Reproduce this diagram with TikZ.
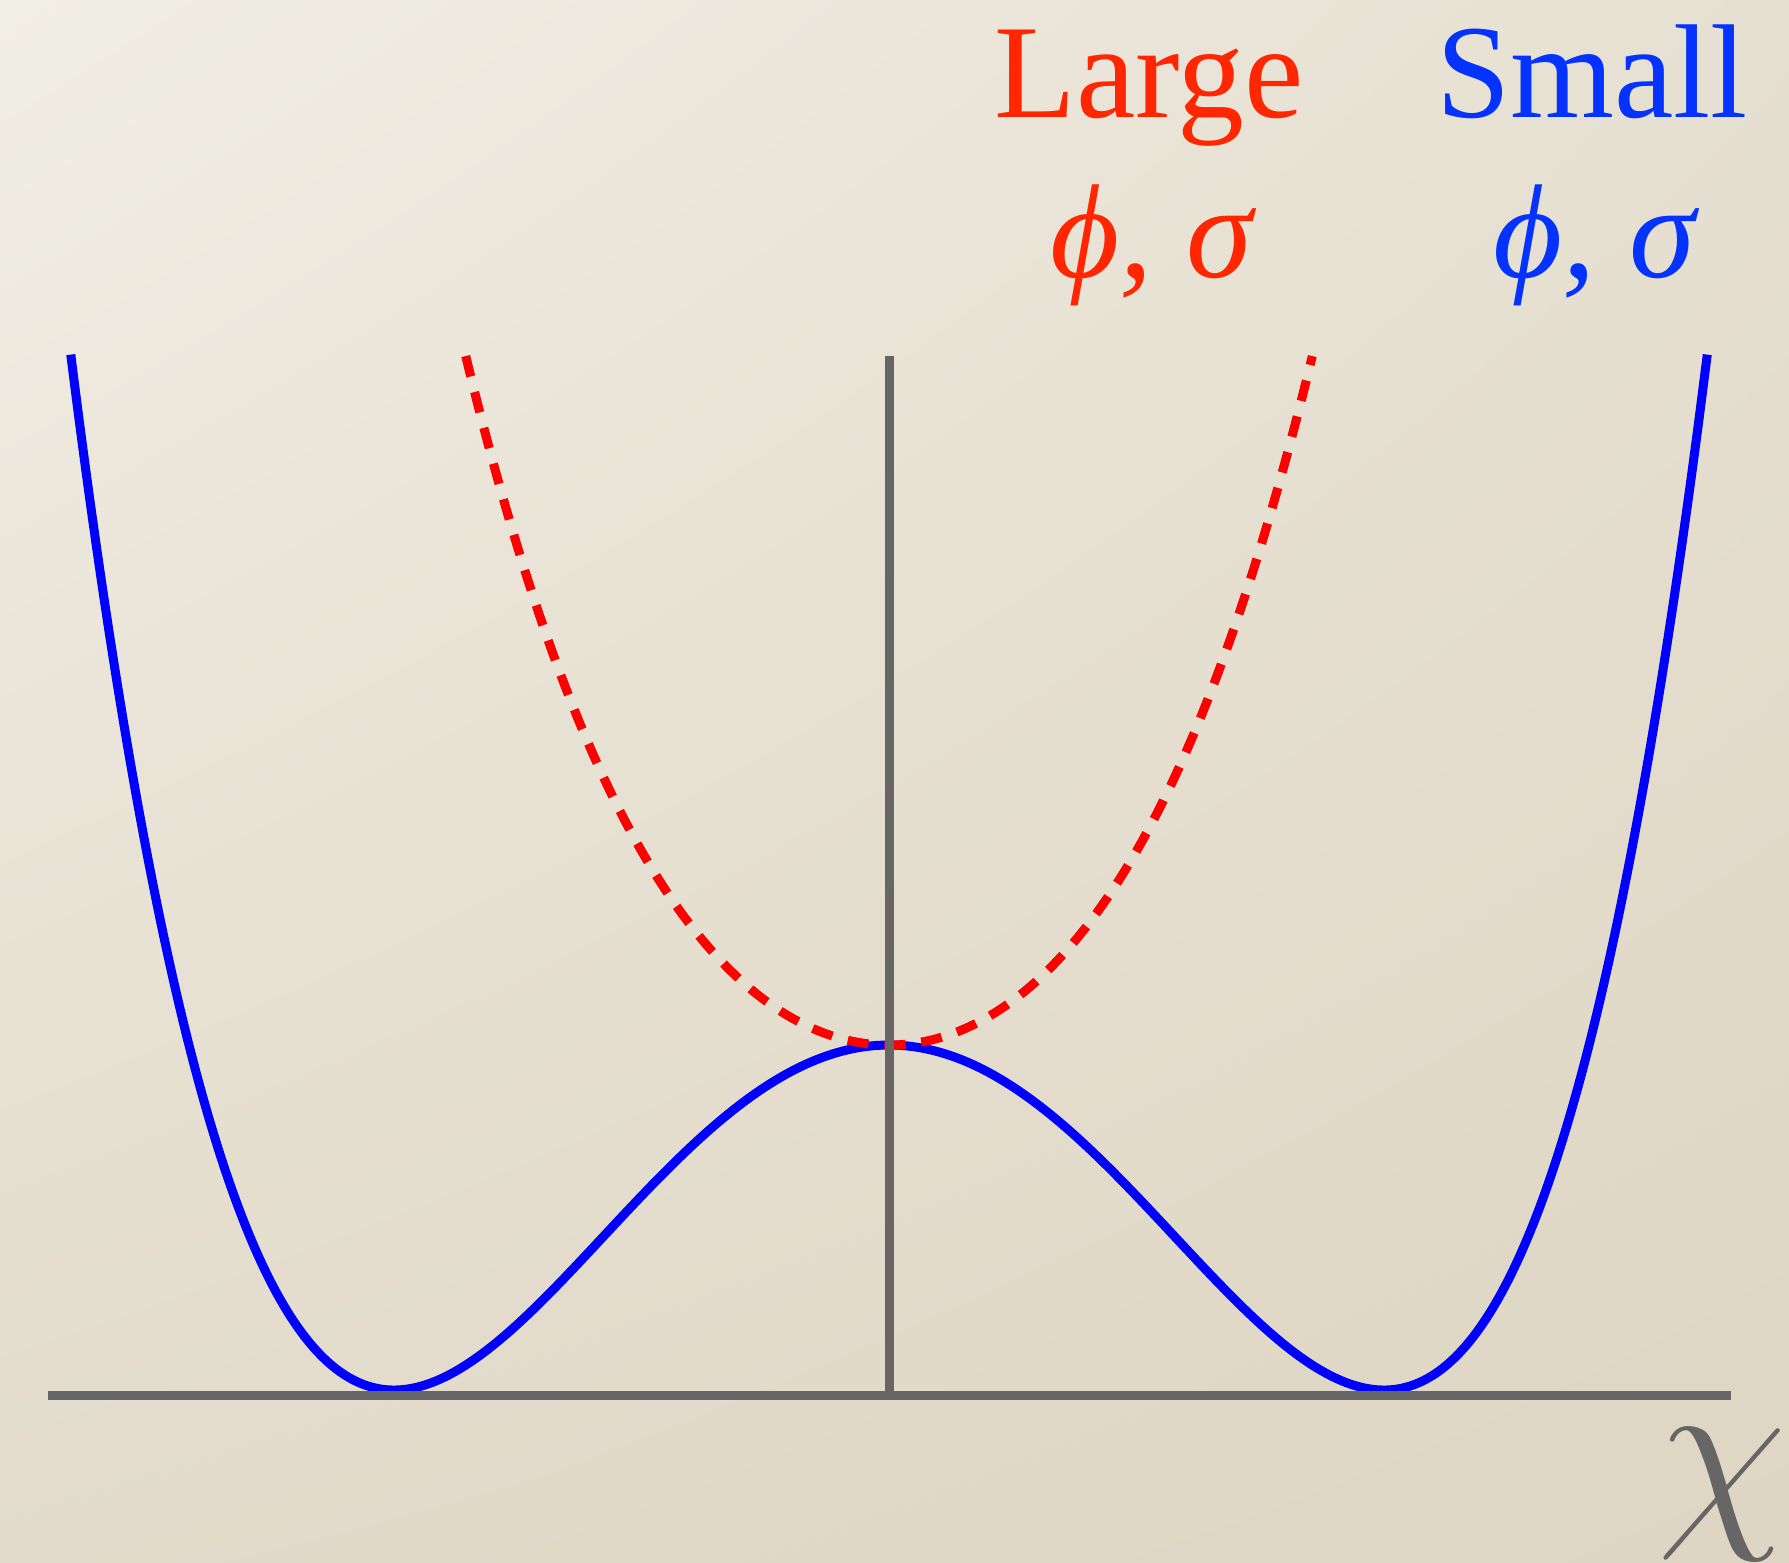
\RequirePackage{fix-cm}
\documentclass[tikz,border=0pt]{standalone}
\usepackage{fontspec}
\setmainfont{Liberation Serif}
\usetikzlibrary{shadings}
\definecolor{txtred}{RGB}{255,38,0}
\definecolor{txtblue}{RGB}{4,51,255}
\definecolor{axisgray}{RGB}{102,102,102}
\definecolor{bgtl}{RGB}{241,238,228}
\definecolor{bgtr}{RGB}{230,224,210}
\definecolor{bgbl}{RGB}{226,219,203}
\definecolor{bgbr}{RGB}{222,213,194}
\begin{document}
\begin{tikzpicture}[x=0.01cm,y=-0.01cm,
  axisline/.style={axisgray,line width=0.09cm},
  bluecurve/.style={blue,line width=0.09cm},
  redcurve/.style={red,line width=0.09cm,dash pattern=on 0.21cm off 0.16cm},
  lbl/.style={font=\fontsize{38}{40}\selectfont,anchor=base,inner sep=0pt}]
\useasboundingbox (0,0) rectangle (1789,1562);
\shade[upper left=bgtl,upper right=bgtr,lower left=bgbl,lower right=bgbr] (0,0) rectangle (1789,1562);
% curves
\draw[bluecurve] plot[samples at={-1.653,-1.64,...,1.64,1.653},smooth] ({889+495*\x},{1390-345*(\x*\x-1)^2});
\draw[redcurve] plot[samples at={-0.8551,-0.85,...,0.85,0.8551},smooth] ({889+495*\x},{1390-345*(\x*\x+1)^2});
% axes
\coordinate (o) at (889,1395);
\coordinate (xl) at (48,1395);
\coordinate (xr) at (1731,1395);
\coordinate (yt) at (889,356);
\draw[axisline] (xl) -- (xr);
\draw[axisline] (yt) -- (o);
% labels
\node[lbl,txtred] (large) at (1149,117) {Large};
\node[lbl,txtred] (largesym) at (1151,277) {\itshape ϕ, σ};
\node[lbl,txtblue] (small) at (1592,117) {Small};
\node[lbl,txtblue] (smallsym) at (1594,277) {\itshape ϕ, σ};
\node[anchor=base,axisgray,font=\fontsize{60}{60}\selectfont,inner sep=0pt] (chi) at (1722,1519) {$\chi$};
\end{tikzpicture}
\end{document}
